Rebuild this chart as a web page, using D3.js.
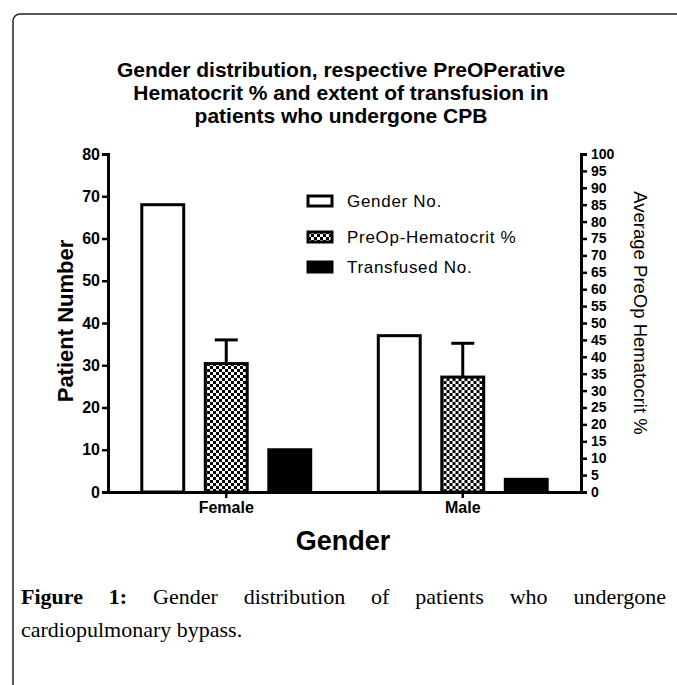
<!DOCTYPE html>
<html>
<head>
<meta charset="utf-8">
<script src="https://cdn.jsdelivr.net/npm/d3@7"></script>
<style>
html,body{margin:0;padding:0;background:#fff;}
svg{display:block;}
</style>
</head>
<body>
<svg id="chart" width="677" height="685"></svg>
<script>
// ---- data ----
const categories = ["Female", "Male"];
const seriesNames = ["Gender No.", "PreOp-Hematocrit %", "Transfused No."];
const genderNo = [68, 37];
const hematocrit = [38, 34];
const hematocritErr = [7, 10];
const transfusedNo = [10, 3];
const leftTicks = [0, 10, 20, 30, 40, 50, 60, 70, 80];
const rightTicks = [0,5,10,15,20,25,30,35,40,45,50,55,60,65,70,75,80,85,90,95,100];
const titleLines = ["Gender distribution, respective PreOPerative",
                    "Hematocrit % and extent of transfusion in",
                    "patients who undergone CPB"];
const captionLine1 = [["Figure", true], ["1:", true], ["Gender", false], ["distribution", false],
                      ["of", false], ["patients", false], ["who", false], ["undergone", false]];
const captionLine2 = "cardiopulmonary bypass.";

const SANS = "'Liberation Sans', Arial, Helvetica, sans-serif";
const SERIF = "'Liberation Serif', 'Times New Roman', serif";

const svg = d3.select("#chart");

// frame
svg.append("rect").attr("x", 13).attr("y", 14).attr("width", 720).attr("height", 720)
  .attr("rx", 7).attr("fill", "none").attr("stroke", "#222").attr("stroke-width", 1.5);

// checker pattern
const defs = svg.append("defs");
const pat = defs.append("pattern").attr("id", "checker").attr("patternUnits", "userSpaceOnUse")
  .attr("width", 6).attr("height", 6);
pat.append("rect").attr("width", 6).attr("height", 6).attr("fill", "#fff");
pat.append("rect").attr("x", 0).attr("y", 0).attr("width", 3).attr("height", 3).attr("fill", "#000");
pat.append("rect").attr("x", 3).attr("y", 3).attr("width", 3).attr("height", 3).attr("fill", "#000");

const fills = ["#fff", "url(#checker)", "#000"];

// scales
const plotLeft = 108, plotRight = 581, plotTop = 154, plotBottom = 492;
const y = d3.scaleLinear().domain([0, 80]).range([plotBottom, plotTop]);
const y2 = d3.scaleLinear().domain([0, 100]).range([plotBottom, plotTop]);
const x0 = d3.scaleBand().domain(categories).range([plotLeft, plotRight]).padding(0);
const half = 95.25;
const x1 = d3.scaleBand().domain(seriesNames)
  .range([x0.bandwidth() / 2 - half, x0.bandwidth() / 2 + half])
  .paddingInner(0.34).paddingOuter(0.17);

// title
svg.append("g").selectAll("text").data(titleLines).join("text")
  .attr("x", 341).attr("y", (d, i) => 77 + i * 23)
  .attr("text-anchor", "middle")
  .style("font-family", SANS).style("font-size", "21px").style("font-weight", "bold")
  .text(d => d);

// bars
const rows = categories.map((c, i) => ({
  cat: c,
  vals: [
    { s: seriesNames[0], v: genderNo[i], sc: y },
    { s: seriesNames[1], v: hematocrit[i], sc: y2, err: hematocritErr[i] },
    { s: seriesNames[2], v: transfusedNo[i], sc: y }
  ]
}));

const groups = svg.append("g").selectAll("g").data(rows).join("g")
  .attr("transform", d => `translate(${x0(d.cat)},0)`);

groups.selectAll("line.err").data(d => d.vals.filter(v => v.err != null)).join("line")
  .attr("class", "err")
  .attr("x1", d => x1(d.s) + x1.bandwidth() / 2).attr("x2", d => x1(d.s) + x1.bandwidth() / 2)
  .attr("y1", d => d.sc(d.v)).attr("y2", d => d.sc(d.v + d.err))
  .attr("stroke", "#000").attr("stroke-width", 3);
groups.selectAll("line.cap").data(d => d.vals.filter(v => v.err != null)).join("line")
  .attr("class", "cap")
  .attr("x1", d => x1(d.s) + x1.bandwidth() / 2 - 11.5).attr("x2", d => x1(d.s) + x1.bandwidth() / 2 + 11.5)
  .attr("y1", d => d.sc(d.v + d.err)).attr("y2", d => d.sc(d.v + d.err))
  .attr("stroke", "#000").attr("stroke-width", 3);

groups.selectAll("rect").data(d => d.vals).join("rect")
  .attr("x", d => x1(d.s))
  .attr("width", x1.bandwidth())
  .attr("y", d => d.sc(d.v))
  .attr("height", d => plotBottom - d.sc(d.v))
  .attr("fill", (d, i) => fills[i])
  .attr("stroke", "#000").attr("stroke-width", 3);

// axes
function styleAxis(g, fontSize) {
  g.select(".domain").attr("stroke-width", 3);
  g.selectAll(".tick line").attr("stroke-width", 2.5);
  g.selectAll(".tick text").style("font-family", SANS).style("font-size", fontSize)
    .style("font-weight", "bold").attr("fill", "#000");
}

const gL = svg.append("g").attr("transform", `translate(${plotLeft},0)`)
  .call(d3.axisLeft(y).tickValues(leftTicks).tickSize(6).tickPadding(2));
styleAxis(gL, "16px");

const gR = svg.append("g").attr("transform", `translate(${plotRight},0)`)
  .call(d3.axisRight(y2).tickValues(rightTicks).tickSize(6).tickPadding(4));
styleAxis(gR, "14px");

const gB = svg.append("g").attr("transform", `translate(0,${plotBottom})`)
  .call(d3.axisBottom(x0).tickSize(6).tickSizeOuter(0).tickPadding(4));
styleAxis(gB, "16px");

// axis titles
svg.append("text").attr("transform", "translate(73,321) rotate(-90)")
  .attr("text-anchor", "middle")
  .style("font-family", SANS).style("font-size", "22px").style("font-weight", "bold")
  .text("Patient Number");

svg.append("text").attr("transform", "translate(634,313) rotate(90)")
  .attr("text-anchor", "middle")
  .style("font-family", SANS).style("font-size", "18.5px")
  .text("Average PreOp Hematocrit %");

svg.append("text").attr("x", 343).attr("y", 550)
  .attr("text-anchor", "middle")
  .style("font-family", SANS).style("font-size", "27px").style("font-weight", "bold")
  .text("Gender");

// legend
const legendY = [201, 237, 267];
const leg = svg.append("g").selectAll("g").data(seriesNames).join("g")
  .attr("transform", (d, i) => `translate(308,${legendY[i]})`);
leg.append("rect").attr("x", 0).attr("y", -5).attr("width", 24).attr("height", 10)
  .attr("fill", (d, i) => fills[i]).attr("stroke", "#000").attr("stroke-width", 3);
leg.append("text").attr("x", 39).attr("y", 6)
  .style("font-family", SANS).style("font-size", "17px").style("letter-spacing", "0.7px")
  .text(d => d);

// caption
const capL = 21, capR = 666, cap1Y = 604, cap2Y = 637;
const capG = svg.append("g");
const words = capG.selectAll("text").data(captionLine1).join("text")
  .attr("y", cap1Y)
  .style("font-family", SERIF).style("font-size", "22px")
  .style("font-weight", d => d[1] ? "bold" : "normal")
  .text(d => d[0]);
const widths = [];
words.each(function () { widths.push(this.getComputedTextLength()); });
const gap = (capR - capL - d3.sum(widths)) / (widths.length - 1);
let cx = capL;
words.attr("x", (d, i) => { const v = cx; cx += widths[i] + gap; return v; });
svg.append("text").attr("x", capL).attr("y", cap2Y)
  .style("font-family", SERIF).style("font-size", "22px")
  .text(captionLine2);
</script>
</body>
</html>
